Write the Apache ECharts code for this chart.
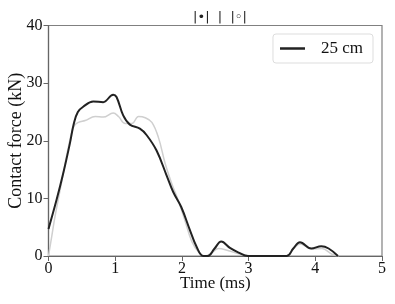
<!DOCTYPE html>
<html><head><meta charset="utf-8">
<script src="https://cdn.jsdelivr.net/npm/echarts@6/dist/echarts.min.js"></script>
<style>html,body{margin:0;padding:0;background:#fff}#c{width:395px;height:304px}</style>
</head><body><div id="c"></div>
<script>
var titleText = '|\u2022|  |  |\u25E6|';
var seriesName = '25 cm';
var xTicks = [0, 1, 2, 3, 4, 5];
var yTicks = [0, 10, 20, 30, 40];
var blackT = [0, 0.12, 0.22, 0.32, 0.38, 0.44, 0.52, 0.67, 0.82, 0.97, 1.02, 1.12, 1.22, 1.37, 1.47, 1.62, 1.77, 1.87, 1.99, 2.12, 2.22, 2.32, 2.39, 2.49, 2.59, 2.72, 2.85, 2.99, 3.57, 3.67, 3.77, 3.94, 4.09, 4.2, 4.34];
var blackV = [4.7, 9.7, 14.3, 19.5, 23, 25, 25.9, 26.8, 26.7, 28, 27.6, 24.4, 22.8, 22.1, 21, 18.3, 14, 11.1, 8.5, 4.5, 1.6, 0, 0, 1.3, 2.5, 1.4, 0.6, 0, 0, 1.3, 2.4, 1.3, 1.7, 1.3, 0];
var grayT = [0, 0.05, 0.1, 0.2, 0.3, 0.38, 0.45, 0.55, 0.7, 0.82, 0.97, 1.05, 1.15, 1.25, 1.35, 1.45, 1.55, 1.65, 1.75, 1.85, 1.95, 2.05, 2.15, 2.25, 2.35, 2.45, 2.55, 2.7, 2.85, 3.05, 3.57, 3.67, 3.77, 3.95, 4.1, 4.25, 4.35];
var grayV = [0, 3.5, 7, 13, 19, 22.5, 23.2, 23.5, 24.2, 24.1, 24.8, 24.2, 23, 23, 24.2, 24, 23.2, 20.5, 16, 12.5, 9.5, 6, 2.5, 0.7, 0, 0.6, 1.3, 0.9, 0.4, 0, 0, 1.2, 2.1, 1.2, 1.3, 0.3, 0];
function pairs(t, v){ return t.map(function(x,i){ return [x, v[i]]; }); }
var chart = echarts.init(document.getElementById('c'), null, {renderer:'canvas'});
var font = 'Liberation Serif';
chart.setOption({
  animation:false,
  backgroundColor:'#fff',
  title:{text:titleText, left:215, top:6, textAlign:'center', textStyle:{fontFamily:'DejaVu Sans', fontSize:13, fontWeight:'normal', color:'#222'}},
  grid:{left:48.5, right:13, top:25.5, bottom:48, show:true, borderColor:'#808080', borderWidth:1.2, containLabel:false, outerBoundsMode:'none'},
  legend:{data:[{name:seriesName, icon:'path://M0,0H10V1H0Z'}], right:22, top:34, itemWidth:35, itemHeight:2.5, itemGap:10, padding:[6,10,6,7], borderColor:'#ddd', borderWidth:1, borderRadius:3, backgroundColor:'#fff',
    textStyle:{fontFamily:font, fontSize:17, color:'#111', padding:[0,0,0,6]}},
  xAxis:{type:'value', min:0, max:5, interval:1, name:'Time (ms)', nameLocation:'middle', nameGap:19, nameMoveOverlap:false,
    nameTextStyle:{fontFamily:font, fontSize:17, color:'#111'},
    axisLine:{show:true, lineStyle:{color:'#666', width:1.2}}, axisTick:{show:true, length:5, lineStyle:{color:'#666'}},
    axisLabel:{fontFamily:font, fontSize:16, color:'#111', margin:5, formatter:function(v){return xTicks.indexOf(v)>=0?String(v):'';}},
    splitLine:{show:false}},
  yAxis:{type:'value', min:0, max:40, interval:10, name:'Contact force (kN)', nameLocation:'middle', nameGap:23, nameMoveOverlap:false,
    nameTextStyle:{fontFamily:font, fontSize:18, color:'#111'},
    axisLine:{show:true, lineStyle:{color:'#666', width:1.2}}, axisTick:{show:true, length:5, lineStyle:{color:'#666'}},
    axisLabel:{fontFamily:font, fontSize:16, color:'#111', margin:6, formatter:function(v){return yTicks.indexOf(v)>=0?String(v):'';}},
    splitLine:{show:false}},
  series:[
    {type:'line', name:'gray', data:pairs(grayT, grayV), smooth:0.4, showSymbol:false, lineStyle:{color:'#cfcfcf', width:1.5}, itemStyle:{color:'#cfcfcf'}, z:1},
    {type:'line', name:seriesName, data:pairs(blackT, blackV), smooth:0.4, showSymbol:false, lineStyle:{color:'#222', width:2}, itemStyle:{color:'#222'}, z:2}
  ]
});
</script></body></html>
